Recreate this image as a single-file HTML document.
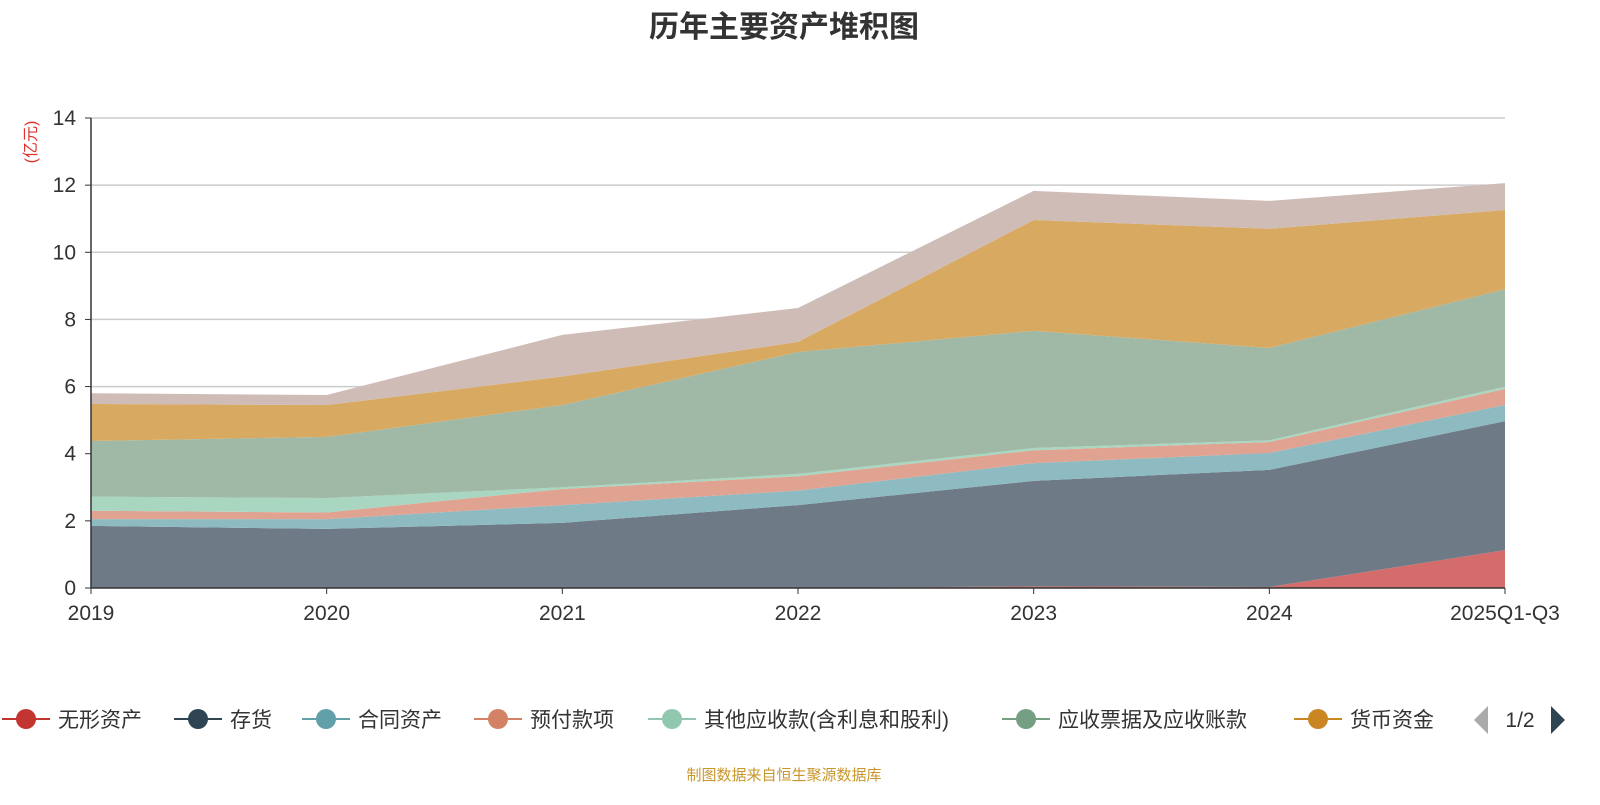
<!DOCTYPE html>
<html><head><meta charset="utf-8"><style>
body{margin:0;background:#fff;width:1600px;height:800px;overflow:hidden;font-family:"Liberation Sans","Noto Sans CJK SC",sans-serif}
svg text{font-family:"Liberation Sans","Noto Sans CJK SC",sans-serif}
</style></head><body>
<svg id="chart" width="1600" height="800">
<text x="784" y="37" text-anchor="middle" font-size="30" font-weight="bold" fill="#333">历年主要资产堆积图</text>
<text transform="translate(36,142) rotate(-90)" text-anchor="middle" font-size="16" fill="#e03030">(亿元)</text>
<g id="grid"></g><g id="areas"></g><g id="axes"></g><g id="legend"></g>
<text x="784" y="780" text-anchor="middle" font-size="15" fill="#c8962a">制图数据来自恒生聚源数据库</text>
</svg>
<script>
const categories=["2019","2020","2021","2022","2023","2024","2025Q1-Q3"];
const seriesNames=["无形资产","存货","合同资产","预付款项","其他应收款(含利息和股利)","应收票据及应收账款","货币资金","其他"];
const intangible=[0,0,0,0,0.05,0.03,1.13];
const inventory=[1.85,1.76,1.94,2.47,3.14,3.49,3.84];
const contractAssets=[0.2,0.29,0.53,0.43,0.53,0.5,0.48];
const prepayments=[0.25,0.2,0.48,0.43,0.38,0.33,0.48];
const otherReceivables=[0.42,0.43,0.05,0.07,0.07,0.05,0.07];
const receivables=[1.66,1.82,2.45,3.63,3.49,2.75,2.9];
const cash=[1.1,0.95,0.85,0.3,3.3,3.55,2.36];
const others=[0.32,0.3,1.24,1.01,0.87,0.83,0.8];
const yTicks=[0,2,4,6,8,10,12,14];
const seriesData=[intangible,inventory,contractAssets,prepayments,otherReceivables,receivables,cash,others];
const fills=["#d46c6b","#6e7b87","#8ebac2","#e0a391","#a9d6c0","#9fb9a6","#d8a961","#d0bcb7"];
const lineColors=["#c23531","#2f4554","#61a0a8","#d48265","#91c7ae","#749f83","#ca8622","#bda29a"];
const X0=91,X1=1505,Y0=588,Y1=118,YMAX=14;
const x=i=>X0+(X1-X0)*i/(categories.length-1);
const y=v=>Y0-(Y0-Y1)*v/YMAX;
const NS="http://www.w3.org/2000/svg";
function mk(tag,attrs,parent){const e=document.createElementNS(NS,tag);for(const k in attrs)e.setAttribute(k,attrs[k]);parent.appendChild(e);return e;}
const grid=document.getElementById('grid'),axes=document.getElementById('axes'),areas=document.getElementById('areas'),legend=document.getElementById('legend');
yTicks.forEach(t=>{
 if(t>0){const g=mk('line',{x1:X0,x2:X1,y1:y(t),y2:y(t),stroke:'#ccc','stroke-width':1.5},grid);
 
 }
 const tk=mk('line',{x1:X0-6,x2:X0,y1:y(t),y2:y(t),stroke:'#333'},axes);
 
 
 const lb=mk('text',{x:X0-15,y:y(t)+7,'text-anchor':'end','font-size':21,fill:'#333'},axes);lb.textContent=t;
 
 
});
let base=categories.map(()=>0);
seriesData.forEach((s,si)=>{
 const top=base.map((b,i)=>b+s[i]);
 let d='M'+categories.map((c,i)=>x(i)+','+y(top[i])).join('L');
 for(let i=categories.length-1;i>=0;i--)d+='L'+x(i)+','+y(base[i]);
 const p=mk('path',{d:d+'Z',fill:fills[si]},areas);
 
 
 base=top;
});
const ax=mk('line',{x1:X0,x2:X0,y1:Y1,y2:Y0,stroke:'#333','stroke-width':1.5},axes);


const xa=mk('line',{x1:X0,x2:X1,y1:Y0,y2:Y0,stroke:'#333','stroke-width':1.5},axes);


categories.forEach((c,i)=>{
 const tk=mk('line',{x1:x(i),x2:x(i),y1:Y0,y2:Y0+6,stroke:'#333'},axes);
 
 
 const lb=mk('text',{x:x(i),y:620,'text-anchor':'middle','font-size':21,fill:'#333'},axes);lb.textContent=c;
 
 
});
const legX=[2,174,302,474,648,1002,1294];
legX.forEach((lx,i)=>{
 const g=mk('g',{},legend);
 
 
 mk('line',{x1:lx,x2:lx+48,y1:719,y2:719,stroke:lineColors[i],'stroke-width':2},g);
 mk('circle',{cx:lx+24,cy:719,r:10,fill:lineColors[i]},g);
 const t=mk('text',{x:lx+56,y:727,'font-size':21,fill:'#333'},g);t.textContent=seriesNames[i];
});
const pl=mk('path',{d:'M1488,706L1474,720L1488,734Z',fill:'#aaa'},legend);


const pt=mk('text',{x:1520,y:727,'text-anchor':'middle','font-size':21,fill:'#333'},legend);pt.textContent='1/2';


const pn=mk('path',{d:'M1551,706L1565,720L1551,734Z',fill:'#2f4554'},legend);


</script>
</body></html>
